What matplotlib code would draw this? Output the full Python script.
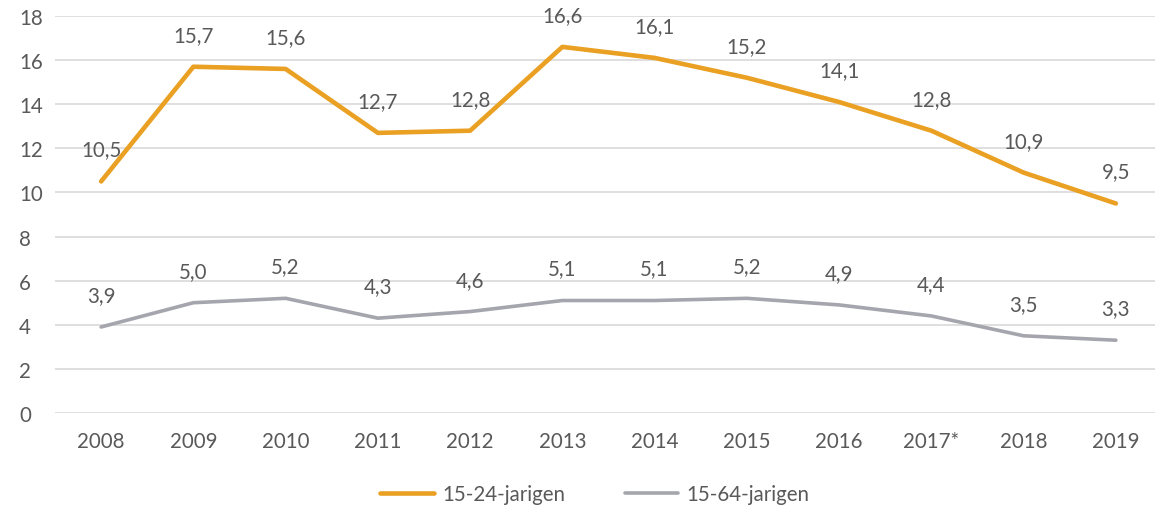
import matplotlib
matplotlib.use("Agg")
import matplotlib.pyplot as plt

years = ["2008", "2009", "2010", "2011", "2012", "2013", "2014", "2015", "2016", "2017*", "2018", "2019"]
youth = [10.5, 15.7, 15.6, 12.7, 12.8, 16.6, 16.1, 15.2, 14.1, 12.8, 10.9, 9.5]
total = [3.9, 5.0, 5.2, 4.3, 4.6, 5.1, 5.1, 5.2, 4.9, 4.4, 3.5, 3.3]
series_names = ["15-24-jarigen", "15-64-jarigen"]

text_col = "#595959"
plt.rcParams['font.family'] = ['Lato', 'DejaVu Sans']
fs = 14.8

fig = plt.figure(figsize=(11.55, 5.1), dpi=100)
ax = fig.add_axes([55 / 1155, 1 - 414 / 510, (1162 - 55) / 1155, (414 - 17) / 510])

x = list(range(len(years)))
ax.plot(x, youth, color="#E9A023", lw=3.3, solid_capstyle="round", label=series_names[0])
ax.plot(x, total, color="#A5A6AD", lw=2.6, solid_capstyle="round", label=series_names[1])

# data labels above the points
for xs, ys in [(x, youth), (x, total)]:
    for xi, yi in zip(xs, ys):
        ax.annotate(f"{yi:.1f}".replace(".", ","), (xi, yi), xytext=(0, 23),
                    textcoords="offset points", ha="center", va="center",
                    fontsize=fs, color=text_col)

ax.set_xlim(-0.5, len(years) - 0.5)
ax.set_ylim(0, 18)
ax.set_yticks(range(0, 19, 2))
ax.set_xticks(x)
ax.set_xticklabels(years)
ax.grid(axis="y", color="#D9D9D9", lw=1.2)
ax.set_axisbelow(True)
for s in ax.spines.values():
    s.set_visible(False)
ax.tick_params(length=0, labelsize=fs, labelcolor=text_col)
ax.tick_params(axis="x", pad=13)
ax.tick_params(axis="y", pad=26)
for lbl in ax.get_yticklabels():
    lbl.set_horizontalalignment("left")

fig.legend(loc="center", bbox_to_anchor=(0.515, 1 - 495 / 510), ncol=2, frameon=False,
           fontsize=fs, labelcolor=text_col, handlelength=2.6, handletextpad=0.4,
           columnspacing=2.9)

fig.savefig("out.png", dpi=100)
